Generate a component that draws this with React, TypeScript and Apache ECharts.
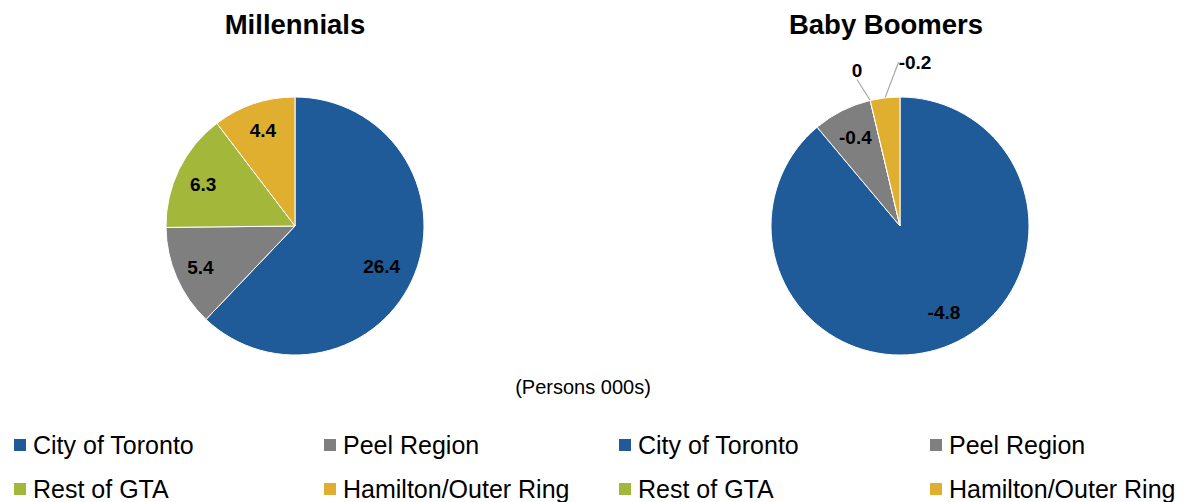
import React, { useEffect, useRef } from "react";
import * as echarts from "echarts";

const categories = ["City of Toronto", "Peel Region", "Rest of GTA", "Hamilton/Outer Ring"];
const millennials = [26.4, 5.4, 6.3, 4.4];
const boomers = [-4.8, -0.4, 0, -0.2];
const colors = ["#1F5B98", "#7F7F7F", "#A3B73B", "#E1AF2F"];
const titles = ["Millennials", "Baby Boomers"];
const unitNote = "(Persons 000s)";

const FONT = "'Liberation Sans', Arial, sans-serif";
const R = 129;
const centers = [
  [295, 226],
  [900, 226],
];
// label placement: [fraction of radius, angle tweak in degrees]
const labelPlace = [
  [
    [0.74, 3],
    [0.8, 0],
    [0.78, -2],
    [0.78, 0],
  ],
  [
    [0.75, -7],
    [0.77, 0],
    [0, 0],
    [0, 0],
  ],
];

export default function App() {
  const ref = useRef<HTMLDivElement>(null);
  useEffect(() => {
    document.body.style.margin = "0";
    const chart = echarts.init(ref.current!, null, { renderer: "svg" });

    const makeLayout = (si: number) => (params: any) => {
      const [cx, cy] = centers[si];
      const i = params.dataIndex;
      if (si === 1 && i === 2) {
        return { x: cx - 43, y: cy - 156, align: "center", verticalAlign: "middle" };
      }
      if (si === 1 && i === 3) {
        return { x: cx + 15, y: cy - 164, align: "center", verticalAlign: "middle" };
      }
      const r = params.labelRect;
      const lx = r.x + r.width / 2;
      const ly = r.y + r.height / 2;
      const [frac, tweak] = labelPlace[si][i];
      const ang = Math.atan2(ly - cy, lx - cx) + (tweak * Math.PI) / 180;
      return {
        x: cx + Math.cos(ang) * R * frac,
        y: cy + Math.sin(ang) * R * frac,
        align: "center",
        verticalAlign: "middle",
      };
    };

    const legendItems: any[] = [];
    const cols = [12, 322, 617, 928];
    const rows = [432, 476];
    const arrangement = [
      [0, 2],
      [1, 3],
    ];
    cols.forEach((left, ci) => {
      arrangement[ci % 2].forEach((catIdx, ri) => {
        legendItems.push({
          left,
          top: rows[ri],
          orient: "vertical",
          padding: 0,
          itemWidth: 14,
          itemHeight: 14,
          itemGap: 0,
          icon: "rect",
          data: [categories[catIdx]],
          textStyle: { fontFamily: FONT, fontSize: 25, color: "#000", lineHeight: 26, padding: [0, 0, 0, 1] },
        });
      });
    });

    const baseSeries = (si: number, values: number[]) => ({
      type: "pie",
      center: centers[si],
      radius: R,
      startAngle: 90,
      clockwise: true,
      avoidLabelOverlap: false,
      itemStyle: { borderColor: "#fff", borderWidth: 1 },
      emphasis: { disabled: true },
      label: {
        show: true,
        position: "inside",
        fontFamily: FONT,
        fontWeight: "bold",
        fontSize: 19,
        color: "#000",
        formatter: (p: any) => String(values[p.dataIndex]),
      },
      labelLine: { show: true, length: 10, length2: 0, lineStyle: { color: "#A6A6A6", width: 1.2 } },
      labelLayout: makeLayout(si),
      data: categories.map((name, i) => {
        const d: any = { name, value: Math.abs(values[i]), itemStyle: { color: colors[i] } };
        if (si === 1 && (i === 2 || i === 3)) {
          d.label = { position: "outside" };
          d.labelLine = { show: true };
        }
        return d;
      }),
    });

    chart.setOption({
      animation: false,
      color: colors,
      title: [
        {
          text: titles[0],
          left: 295,
          top: 10,
          padding: 0,
          textAlign: "center",
          textStyle: { fontFamily: FONT, fontWeight: "bold", fontSize: 27.5, color: "#000" },
        },
        {
          text: titles[1],
          left: 886,
          top: 10,
          padding: 0,
          textAlign: "center",
          textStyle: { fontFamily: FONT, fontWeight: "bold", fontSize: 27.5, color: "#000" },
        },
        {
          text: unitNote,
          left: 583,
          top: 377,
          padding: 0,
          textAlign: "center",
          textStyle: { fontFamily: FONT, fontWeight: "normal", fontSize: 20, color: "#000" },
        },
      ],
      legend: legendItems,
      series: [baseSeries(0, millennials), baseSeries(1, boomers)],
    });
    return () => chart.dispose();
  }, []);
  return <div ref={ref} style={{ width: 1194, height: 502 }} />;
}
